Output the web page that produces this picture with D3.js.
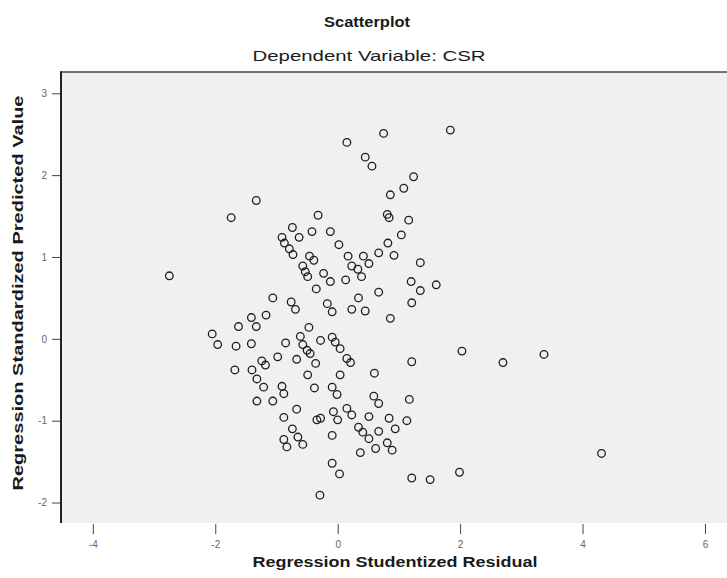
<!DOCTYPE html>
<html>
<head>
<meta charset="utf-8">
<script src="https://cdn.jsdelivr.net/npm/d3@7"></script>
<style>
  html, body { margin: 0; padding: 0; background: #ffffff; }
  svg { display: block; }
  text { font-family: "Liberation Sans", Arial, sans-serif; }
</style>
</head>
<body>
<svg id="chart" width="727" height="578"></svg>
<script>
// ---- data ----
const chartTitle = "Scatterplot";
const chartSubtitle = "Dependent Variable: CSR";
const xAxisTitle = "Regression Studentized Residual";
const yAxisTitle = "Regression Standardized Predicted Value";

const xTickValues = [-4, -2, 0, 2, 4, 6];
const yTickValues = [-2, -1, 0, 1, 2, 3];

// studentized residuals
const residuals = [
  -2.75, -1.74, -1.33, -0.74, -0.42, -0.91, -0.63, -0.87, -0.79, -0.73,
  -0.46, -0.39, -0.57, -0.53, -0.49, -0.35, -1.06, -0.76, -0.69, -1.17,
  -1.41, -1.33, -1.62, -0.47, -2.05, -0.61, -0.85, -1.41, -1.96, -1.66,
  -0.57, -0.50, -0.45, -0.98, -0.67, -0.36, -1.24, -1.18, -1.68, -1.40,
  -1.32, -1.21, -0.91, -0.88, -0.49, -0.38, -1.32, -1.06, -0.67, -0.88,
  -0.34, -0.74, -0.65, -0.88, -0.83, -0.57, -0.29, 0.15, 0.75, 1.84,
  0.45, 0.56, 1.24, 1.08, 0.86, 0.81, 0.84, 1.16, 1.04, -0.32,
  -0.12, 0.02, 0.82, 0.67, 0.92, 0.42, 0.51, 0.17, 1.35, 0.23,
  0.33, 0.39, 0.13, 1.20, 1.35, 1.61, 0.67, 1.21, 0.34, 0.23,
  0.45, 0.86, -0.17, -0.09, -0.23, -0.12, -0.09, -0.28, -0.04, 0.04,
  0.15, 0.21, 0.04, 0.60, 1.21, 2.03, -0.09, -0.01, 0.59, 0.67,
  1.17, 0.15, 0.23, -0.07, 0.00, -0.28, 0.51, 0.84, 0.94, 1.13,
  0.34, 0.41, 0.67, -0.09, 0.51, 0.81, 0.89, 0.62, 0.37, -0.09,
  0.03, 1.21, 1.51, 1.99, 2.70, 3.37, 4.31
];

// standardized predicted values
const predicted = [
  0.77, 1.48, 1.69, 1.36, 1.31, 1.24, 1.24, 1.17, 1.10, 1.03,
  1.01, 0.96, 0.89, 0.82, 0.76, 0.61, 0.50, 0.45, 0.36, 0.29,
  0.26, 0.15, 0.15, 0.14, 0.06, 0.03, -0.05, -0.06, -0.07, -0.09,
  -0.07, -0.14, -0.18, -0.22, -0.25, -0.30, -0.27, -0.32, -0.38, -0.38,
  -0.49, -0.59, -0.58, -0.67, -0.44, -0.60, -0.76, -0.76, -0.86, -0.96,
  -0.99, -1.10, -1.20, -1.23, -1.32, -1.29, -1.91, 2.40, 2.51, 2.55,
  2.22, 2.11, 1.98, 1.84, 1.76, 1.52, 1.48, 1.45, 1.27, 1.51,
  1.31, 1.15, 1.17, 1.05, 1.02, 1.01, 0.92, 1.01, 0.93, 0.89,
  0.85, 0.76, 0.72, 0.70, 0.59, 0.66, 0.57, 0.44, 0.50, 0.36,
  0.34, 0.25, 0.43, 0.33, 0.80, 0.70, 0.02, -0.02, -0.04, -0.12,
  -0.24, -0.29, -0.44, -0.42, -0.28, -0.15, -0.59, -0.68, -0.70, -0.79,
  -0.74, -0.85, -0.93, -0.89, -0.99, -0.97, -0.95, -0.97, -1.10, -1.00,
  -1.08, -1.14, -1.13, -1.18, -1.22, -1.27, -1.36, -1.34, -1.39, -1.52,
  -1.65, -1.70, -1.72, -1.63, -0.29, -0.19, -1.40
];

const points = residuals.map((r, i) => ({ x: r, y: predicted[i] }));

// ---- layout ----
const plot = { left: 61, top: 72, right: 727, bottom: 523 };

const svg = d3.select("#chart");

const x = d3.scaleLinear().domain([-4.52, 6.36]).range([plot.left, plot.right]);
const y = d3.scaleLinear().domain([-2.25, 3.26]).range([plot.bottom, plot.top]);

// titles
svg.append("text")
  .attr("x", 367).attr("y", 27)
  .attr("text-anchor", "middle")
  .attr("font-size", 14).attr("font-weight", "bold").attr("fill", "#1a1a1a")
  .attr("textLength", 86).attr("lengthAdjust", "spacingAndGlyphs")
  .text(chartTitle);

svg.append("text")
  .attr("x", 369).attr("y", 61)
  .attr("text-anchor", "middle")
  .attr("font-size", 14.5).attr("fill", "#1a1a1a")
  .attr("textLength", 233).attr("lengthAdjust", "spacingAndGlyphs")
  .text(chartSubtitle);

// plot background
svg.append("rect")
  .attr("x", plot.left).attr("y", plot.top)
  .attr("width", plot.right - plot.left).attr("height", plot.bottom - plot.top)
  .attr("fill", "#f0f0f0");

// frame lines (top and left)
svg.append("line")
  .attr("x1", plot.left).attr("x2", plot.right)
  .attr("y1", plot.top).attr("y2", plot.top)
  .attr("stroke", "#444").attr("stroke-width", 1.5);
svg.append("line")
  .attr("x1", plot.left).attr("x2", plot.left)
  .attr("y1", plot.top - 0.75).attr("y2", plot.bottom)
  .attr("stroke", "#222").attr("stroke-width", 2);

// axes
const yAxis = d3.axisLeft(y).tickValues(yTickValues).tickSize(8).tickPadding(5)
  .tickFormat(d => String(d));
const gy = svg.append("g").attr("transform", `translate(${plot.left - 1},0)`).call(yAxis);
gy.select(".domain").remove();
gy.selectAll(".tick line").attr("stroke", "#444");
gy.selectAll(".tick text").attr("font-size", 10).attr("fill", "#666")
  .attr("font-family", "\"Liberation Sans\", Arial, sans-serif");

const xAxis = d3.axisBottom(x).tickValues(xTickValues).tickSize(10).tickPadding(7)
  .tickFormat(d => String(d));
const gx = svg.append("g").attr("transform", `translate(0,${plot.bottom + 1})`).call(xAxis);
gx.select(".domain").remove();
gx.selectAll(".tick line").attr("stroke", "#444");
gx.selectAll(".tick text").attr("font-size", 10).attr("fill", "#666")
  .attr("font-family", "\"Liberation Sans\", Arial, sans-serif");

// axis titles
svg.append("text")
  .attr("x", 395).attr("y", 567)
  .attr("text-anchor", "middle")
  .attr("font-size", 14).attr("font-weight", "bold").attr("fill", "#1a1a1a")
  .attr("textLength", 285).attr("lengthAdjust", "spacingAndGlyphs")
  .text(xAxisTitle);

svg.append("text")
  .attr("transform", `translate(23,293) rotate(-90)`)
  .attr("text-anchor", "middle")
  .attr("font-size", 14).attr("font-weight", "bold").attr("fill", "#1a1a1a")
  .attr("textLength", 395).attr("lengthAdjust", "spacingAndGlyphs")
  .text(yAxisTitle);

// points
svg.append("g")
  .selectAll("circle")
  .data(points)
  .join("circle")
  .attr("cx", d => x(d.x))
  .attr("cy", d => y(d.y))
  .attr("r", 3.8)
  .attr("fill", "none")
  .attr("stroke", "#1e1e1e")
  .attr("stroke-width", 1.3);
</script>
</body>
</html>
